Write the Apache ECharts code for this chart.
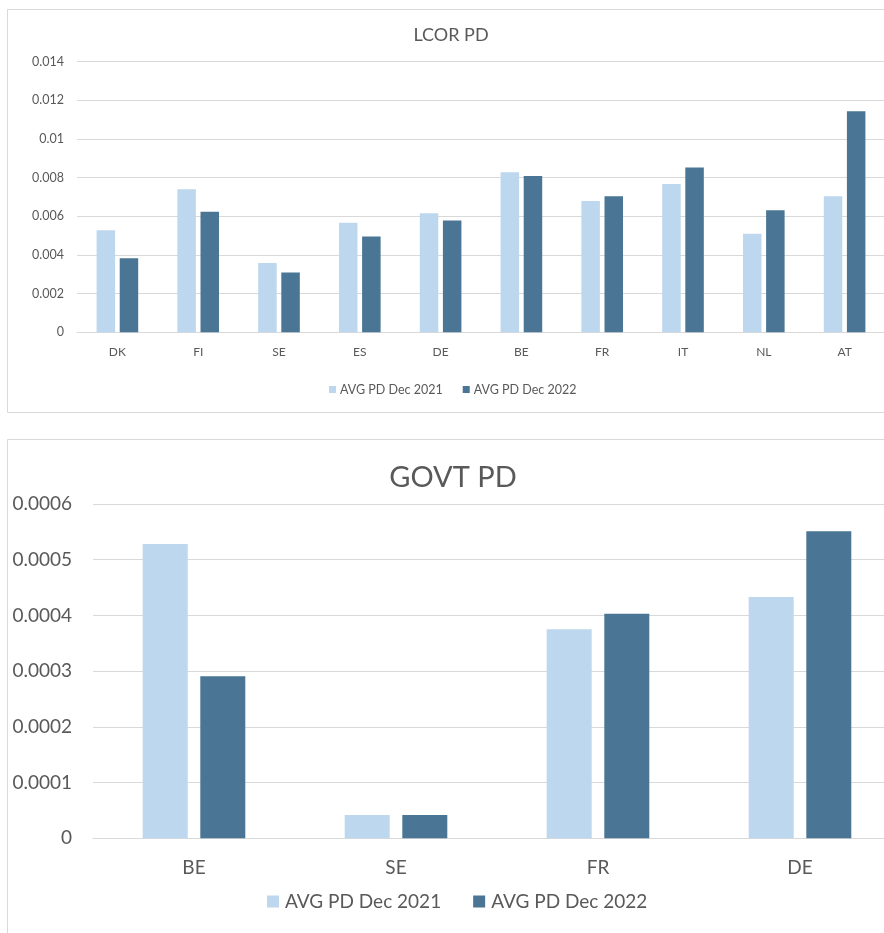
<!DOCTYPE html>
<html>
<head>
<meta charset="utf-8">
<style>
html,body{margin:0;padding:0;background:#fff;overflow:hidden;width:884px;height:933px;}
#chart{width:920px;height:933px;}
</style>
<script src="https://cdn.jsdelivr.net/npm/echarts@6/dist/echarts.min.js"></script>
</head>
<body>
<div id="chart"></div>
<script>
// ---- Data ----
const seriesNames = ['AVG PD Dec 2021', 'AVG PD Dec 2022'];

const lcorCategories = ['DK', 'FI', 'SE', 'ES', 'DE', 'BE', 'FR', 'IT', 'NL', 'AT'];
const lcorDec2021 = [0.00528, 0.0074, 0.00359, 0.00567, 0.00616, 0.00828, 0.00679, 0.00767, 0.0051, 0.00704];
const lcorDec2022 = [0.00383, 0.00624, 0.0031, 0.00495, 0.00579, 0.00809, 0.00704, 0.00852, 0.00631, 0.01143];

const govtCategories = ['BE', 'SE', 'FR', 'DE'];
const govtDec2021 = [0.000528, 0.000042, 0.000375, 0.000433];
const govtDec2022 = [0.000291, 0.000042, 0.000403, 0.000551];

const lcorTitle = 'LCOR PD';
const govtTitle = 'GOVT PD';

// ---- Styles ----
const FONT = 'Lato, "Open Sans", sans-serif';
const TXT = '#595959';
const GRID = '#D9D9D9';
const LIGHT = '#BDD7EE';
const DARK = '#4A7594';

const chart = echarts.init(document.getElementById('chart'), null, {renderer: 'canvas'});

function yAxis(gridIndex, max, interval, fontSize, margin) {
  return {
    type: 'value', gridIndex: gridIndex, min: 0, max: max, interval: interval,
    axisLine: {show: false}, axisTick: {show: false},
    splitLine: {lineStyle: {color: GRID, width: 1}},
    axisLabel: {color: TXT, fontFamily: FONT, fontSize: fontSize, margin: margin}
  };
}
function xAxis(gridIndex, cats, fontSize, margin) {
  return {
    type: 'category', gridIndex: gridIndex, data: cats,
    axisLine: {show: true, lineStyle: {color: GRID, width: 1}},
    axisTick: {show: false},
    axisLabel: {color: TXT, fontFamily: FONT, fontSize: fontSize, margin: margin}
  };
}

const option = {
  animation: false,
  backgroundColor: '#fff',
  title: [
    {text: lcorTitle, left: 451, top: 26, textAlign: 'center', padding: 0,
     textStyle: {color: TXT, fontFamily: FONT, fontSize: 18, fontWeight: 'normal'}},
    {text: govtTitle, left: 453, top: 463, textAlign: 'center', padding: 0,
     textStyle: {color: TXT, fontFamily: FONT, fontSize: 29, fontWeight: 'normal'}}
  ],
  legend: [
    {data: seriesNames, left: 329, top: 383, padding: 0, itemWidth: 7, itemHeight: 7, itemGap: 20,
     icon: 'rect', textStyle: {color: TXT, fontFamily: FONT, fontSize: 12.5, padding: [0, 0, 0, -1]}},
    {data: seriesNames, left: 267, top: 892, padding: 0, itemWidth: 12, itemHeight: 12, itemGap: 32,
     icon: 'rect', textStyle: {color: TXT, fontFamily: FONT, fontSize: 19, padding: [0, 0, 0, 1]}}
  ],
  grid: [
    {left: 77, width: 808, top: 61.7, height: 270.6, containLabel: false},
    {left: 93, width: 808, top: 504, height: 334.3, containLabel: false}
  ],
  xAxis: [xAxis(0, lcorCategories, 12, 14), xAxis(1, govtCategories, 19, 20)],
  yAxis: [yAxis(0, 0.014, 0.002, 12.5, 13), yAxis(1, 0.0006, 0.0001, 19, 21)],
  series: [
    {name: seriesNames[0], type: 'bar', xAxisIndex: 0, yAxisIndex: 0, data: lcorDec2021,
     barWidth: 18.5, barGap: '25%', itemStyle: {color: LIGHT}},
    {name: seriesNames[1], type: 'bar', xAxisIndex: 0, yAxisIndex: 0, data: lcorDec2022,
     barWidth: 18.5, barGap: '25%', itemStyle: {color: DARK}},
    {name: seriesNames[0], type: 'bar', xAxisIndex: 1, yAxisIndex: 1, data: govtDec2021,
     barWidth: 45, barGap: '28%', itemStyle: {color: LIGHT}},
    {name: seriesNames[1], type: 'bar', xAxisIndex: 1, yAxisIndex: 1, data: govtDec2022,
     barWidth: 45, barGap: '28%', itemStyle: {color: DARK}}
  ],
  graphic: [
    {type: 'rect', shape: {x: 7.5, y: 9.5, width: 905, height: 403}, silent: true,
     style: {fill: 'none', stroke: GRID, lineWidth: 1}, z: -1},
    {type: 'rect', shape: {x: 7.5, y: 439.5, width: 905, height: 520}, silent: true,
     style: {fill: 'none', stroke: GRID, lineWidth: 1}, z: -1}
  ]
};
chart.setOption(option);
</script>
</body>
</html>
